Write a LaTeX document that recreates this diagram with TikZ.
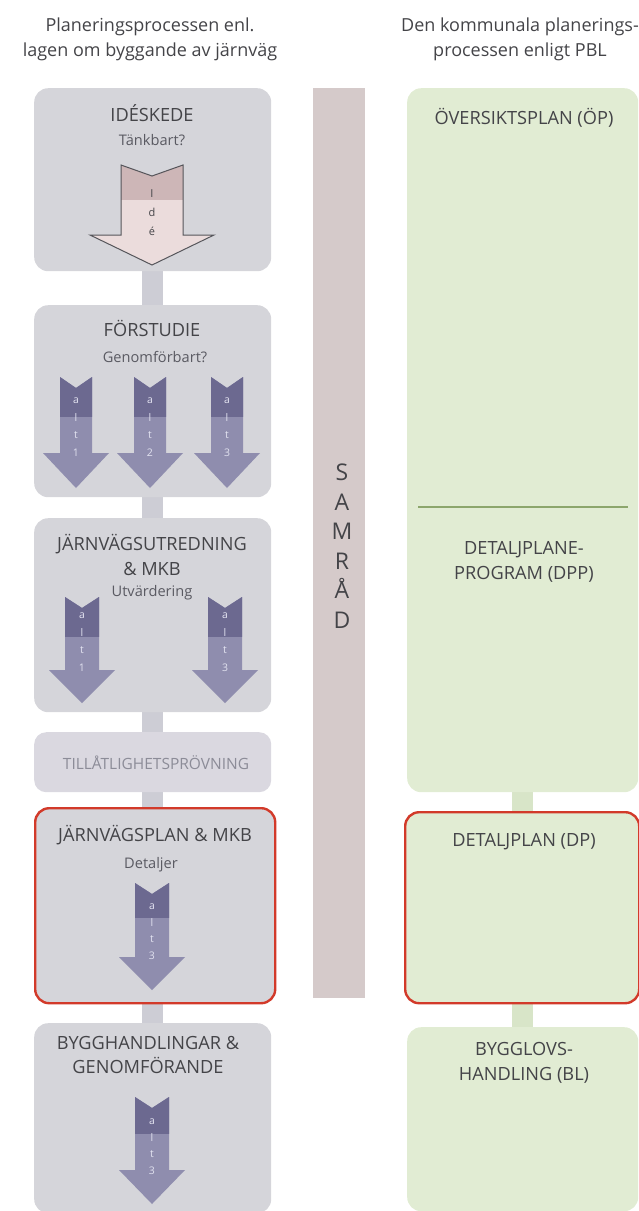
\documentclass[tikz,border=0pt]{standalone}
\usepackage{fontspec}
\setmainfont{Open Sans}
\definecolor{boxgray}{HTML}{D5D5DA}
\definecolor{tilgray}{HTML}{DAD8E0}
\definecolor{conngray}{HTML}{CDCDD5}
\definecolor{grn}{HTML}{E1ECD3}
\definecolor{grnconn}{HTML}{D8E5C8}
\definecolor{grnline}{HTML}{8CA66C}
\definecolor{samrad}{HTML}{D5CACA}
\definecolor{redline}{HTML}{D23A2A}
\definecolor{txt}{HTML}{444448}
\definecolor{subtxt}{HTML}{5A5A62}
\definecolor{tiltxt}{HTML}{8C8C98}
\definecolor{arrdark}{HTML}{6C6990}
\definecolor{arrlight}{HTML}{8F8DAE}
\definecolor{idedark}{HTML}{CDB6B7}
\definecolor{idelight}{HTML}{EBDCDC}
\definecolor{ideedge}{HTML}{55555A}
\definecolor{lettxt}{HTML}{E2E2F0}
\pgfdeclarelayer{bg}
\pgfsetlayers{bg,main}
% #1 cx, #2 top, #3 dark bottom, #4 wing y, #5 tip y, #6 shaft half width, #7 head half width, #8 light style, #9 dark style
\newcommand{\myarrow}[9]{%
  \fill[#8] ({#1-#6},#2) -- (#1,{#2+11}) -- ({#1+#6},#2) -- ({#1+#6},#4) -- ({#1+#7},#4) -- (#1,#5) -- ({#1-#7},#4) -- ({#1-#6},#4) -- cycle;
  \begin{scope}
    \clip ({#1-#6},#2) -- (#1,{#2+11}) -- ({#1+#6},#2) -- ({#1+#6},#4) -- ({#1+#7},#4) -- (#1,#5) -- ({#1-#7},#4) -- ({#1-#6},#4) -- cycle;
    \fill[#9] ({#1-#7},{#2-2}) rectangle ({#1+#7},#3);
  \end{scope}
}
\begin{document}
\begin{tikzpicture}[x=1pt,y=-1pt,
  graybox/.style={fill=boxgray, rounded corners=14pt, inner sep=0pt, anchor=north west},
  greenbox/.style={fill=grn, rounded corners=14pt, inner sep=0pt, anchor=north west},
  redframe/.style={draw=redline, line width=2.4pt},
  conn/.style={line width=21pt, draw=conngray},
  gconn/.style={line width=21pt, draw=grnconn},
  title/.style={text=txt, font=\fontsize{18.2}{24.5}\selectfont, align=center, inner sep=0pt},
  subtitle/.style={text=subtxt, font=\fontsize{14.6}{16}\selectfont, inner sep=0pt},
  header/.style={text=txt, font=\fontsize{18}{25}\selectfont, inner sep=0pt, anchor=base},
  letters/.style={text=lettxt, font=\fontsize{10.5}{17.5}\selectfont, align=center, inner sep=0pt, anchor=north},
  altarrow/.style={fill=arrlight},
  altdark/.style={fill=arrdark},
  idearrow/.style={fill=idelight},
  idedk/.style={fill=idedark}
]
\useasboundingbox (0,0) rectangle (639,1211);

% headers
\node[header] (hl1) at (150,31) {Planeringsprocessen enl.};
\node[header] (hl2) at (150,56) {lagen om byggande av järnväg};
\node[header] (hr1) at (520,31) {Den kommunala planerings-};
\node[header] (hr2) at (520,56) {processen enligt PBL};

% left column boxes
\node[graybox, minimum width=237pt, minimum height=183pt] (ide) at (34,88) {};
\node[graybox, minimum width=237pt, minimum height=192pt] (forst) at (34,305) {};
\node[graybox, minimum width=237pt, minimum height=194pt] (jvu) at (34,518) {};
\node[fill=tilgray, rounded corners=12pt, inner sep=0pt, anchor=north west, minimum width=237pt, minimum height=60pt] (til) at (34,732) {};
\node[graybox, redframe, minimum width=240pt, minimum height=195pt] (jp) at (34,807) {};
\node[graybox, minimum width=237pt, minimum height=190pt] (byg) at (34,1023) {};

% SAMRAD bar
\node[fill=samrad, inner sep=0pt, anchor=north west, minimum width=52pt, minimum height=910pt] (sam) at (313,88) {};
\node[text=txt, font=\fontsize{23}{29.5}\selectfont, align=center, inner sep=0pt] (samtxt) at (342,546) {S\\A\\M\\R\\Å\\D};

% right column boxes
\node[greenbox, minimum width=231pt, minimum height=704pt] (op) at (407,88) {};
\node[greenbox, redframe, minimum width=234pt, minimum height=191pt] (dp) at (404,811) {};
\node[greenbox, minimum width=231pt, minimum height=184pt] (bl) at (407,1027) {};
\coordinate (gl1) at (418,507);
\coordinate (gl2) at (628,507);
\draw[grnline, line width=2.2pt] (gl1) -- (gl2);

% connectors (behind the boxes)
\begin{pgfonlayer}{bg}
\draw[conn] (ide.south) -- (ide.south |- forst.north);
\draw[conn] (forst.south) -- (forst.south |- jvu.north);
\draw[conn] (jvu.south) -- (jvu.south |- til.north);
\draw[conn] (til.south) -- (til.south |- jp.center);
\draw[conn] (til.south |- jp.center) -- (til.south |- byg.north);
\draw[gconn] (op.south) -- (op.south |- dp.center);
\draw[gconn] (op.south |- dp.center) -- (op.south |- bl.north);
\end{pgfonlayer}

% right texts
\node[title] (optxt) at (524,118) {ÖVERSIKTSPLAN (ÖP)};
\node[title] (dpptxt) at (524,562) {DETALJPLANE-\\PROGRAM (DPP)};
\node[title] (dptxt) at (524,842) {DETALJPLAN (DP)};
\node[title] (bltxt) at (524,1063) {BYGGLOVS-\\HANDLING (BL)};

% left texts
\node[title] (idetxt) at (152,113) {IDÉSKEDE};
\node[subtitle] (idesub) at (152,140) {Tänkbart?};
\node[title] (forsttxt) at (152,328) {FÖRSTUDIE};
\node[subtitle] (forstsub) at (155,357) {Genomförbart?};
\node[title] (jvutxt) at (152,555) {JÄRNVÄGSUTREDNING\\\& MKB};
\node[subtitle] (jvusub) at (152,593) {Utvärdering};
\node[title, text=tiltxt, font=\fontsize{15.5}{18}\selectfont] (tiltxt) at (156,763) {TILLÅTLIGHETSPRÖVNING};
\node[title] (jptxt) at (155,835) {JÄRNVÄGSPLAN \& MKB};
\node[subtitle] (jpsub) at (151,865) {Detaljer};
\node[title] (bygtxt) at (148,1055) {BYGGHANDLINGAR \&\\GENOMFÖRANDE};

% arrows
\myarrow{152}{165}{200}{235}{265}{31}{62}{idearrow}{idedk}
\draw[ideedge, line width=1pt] (121,165) -- (152,176) -- (183,165) -- (183,235) -- (214,235) -- (152,265) -- (90,235) -- (121,235) -- cycle;
\node[text=txt, font=\fontsize{11}{19}\selectfont, align=center, inner sep=0pt, anchor=north] (idel) at (152,189) {I\\d\\é};

\myarrow{76}{377}{417}{453}{488}{16}{33}{altarrow}{altdark}
\myarrow{150}{377}{417}{453}{488}{16}{33}{altarrow}{altdark}
\myarrow{227}{377}{417}{453}{488}{16}{33}{altarrow}{altdark}
\node[letters] (l1) at (76,398) {a\\l\\t\\1};
\node[letters] (l2) at (150,398) {a\\l\\t\\2};
\node[letters] (l3) at (227,398) {a\\l\\t\\3};

\myarrow{82}{597}{637}{670}{703}{17}{33}{altarrow}{altdark}
\myarrow{225}{597}{637}{670}{703}{17}{33}{altarrow}{altdark}
\node[letters] (l4) at (82,613) {a\\l\\t\\1};
\node[letters] (l5) at (225,613) {a\\l\\t\\3};

\myarrow{152}{883}{918}{957}{990}{17}{33}{altarrow}{altdark}
\node[letters, font=\fontsize{10.5}{16.5}\selectfont] (l6) at (152,904) {a\\l\\t\\3};

\myarrow{152}{1097}{1134}{1170}{1204}{17}{33}{altarrow}{altdark}
\node[letters, font=\fontsize{10.5}{16.5}\selectfont] (l7) at (152,1119) {a\\l\\t\\3};
\end{tikzpicture}
\end{document}
